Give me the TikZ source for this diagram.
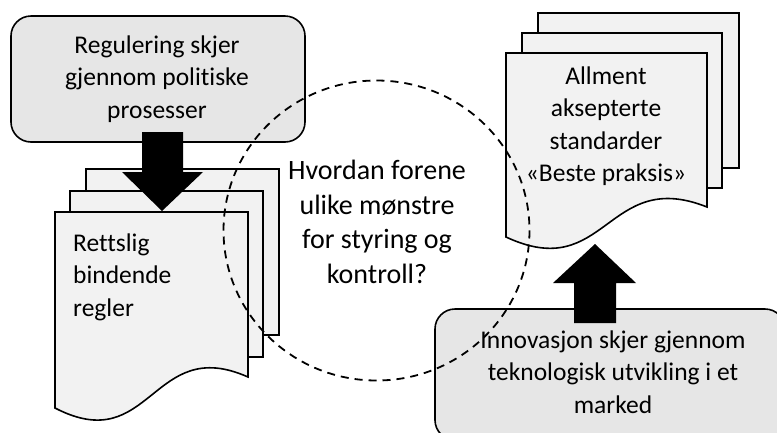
\documentclass[tikz,border=0pt]{standalone}
\usepackage{fontspec}
\setmainfont[Ligatures=NoCommon]{Carlito}
\definecolor{boxgray}{RGB}{230,230,230}
\definecolor{docgray}{RGB}{242,242,242}
\tikzset{
  procbox/.style={draw, line width=1.6pt, fill=boxgray, rounded corners=20pt},
  docpage/.style={draw, line width=1.6pt, fill=docgray},
  blockarrow/.style={fill=black},
  boxtext/.style={align=center, inner sep=0pt, font=\fontsize{25.5}{32.5}\selectfont},
  bigtext/.style={boxtext, font=\fontsize{28}{34.5}\selectfont},
  ring/.style={line width=1.8pt, dash pattern=on 8pt off 6pt}
}
\begin{document}
\begin{tikzpicture}[x=1pt, y=-1pt]
\useasboundingbox (0,0) rectangle (777,432);
\clip (0,0) rectangle (777,432);

\draw [procbox] (11,16) rectangle (305,142);
\draw [procbox] (435,309) rectangle (785,440);

\draw [docpage] (86,169) rectangle (279,335);
\draw [docpage] (70,191) rectangle (263,357);
\draw [docpage] (55,408) -- (55,212) -- (248,212) -- (248,377)
  .. controls (151.5,334) and (151.5,458) .. (55,408) -- cycle;

\draw [docpage] (538,13) rectangle (739,168);
\draw [docpage] (522,33) rectangle (722,188);
\draw [docpage] (506,237) -- (506,53) -- (707,53) -- (707,207)
  .. controls (606.5,167) and (606.5,284) .. (506,237) -- cycle;

\fill [blockarrow] (142,132) -- (183,132) -- (183,172) -- (203,172) -- (162,211)
  -- (122,172) -- (142,172) -- cycle;
\fill [blockarrow] (574,323) -- (616,323) -- (616,283) -- (636,283) -- (595,244)
  -- (553,283) -- (574,283) -- cycle;

\node [boxtext] (reg) at (157,79) {Regulering skjer\\gjennom politiske\\prosesser};
\node [boxtext, align=left, anchor=west] (rett) at (73,277) {Rettslig\\bindende\\regler};
\node [boxtext] (std) at (606,126) {Allment\\aksepterte\\standarder\\«Beste praksis»};
\node [boxtext] (inn) at (613,372) {Innovasjon skjer gjennom\\teknologisk utvikling i et\\marked};
\node [bigtext] (sporsmal) at (377,222) {Hvordan forene\\ulike mønstre\\for styring og\\kontroll?};

\draw [ring] (376.5,230.5) ellipse [x radius=153, y radius=150];
\end{tikzpicture}
\end{document}
